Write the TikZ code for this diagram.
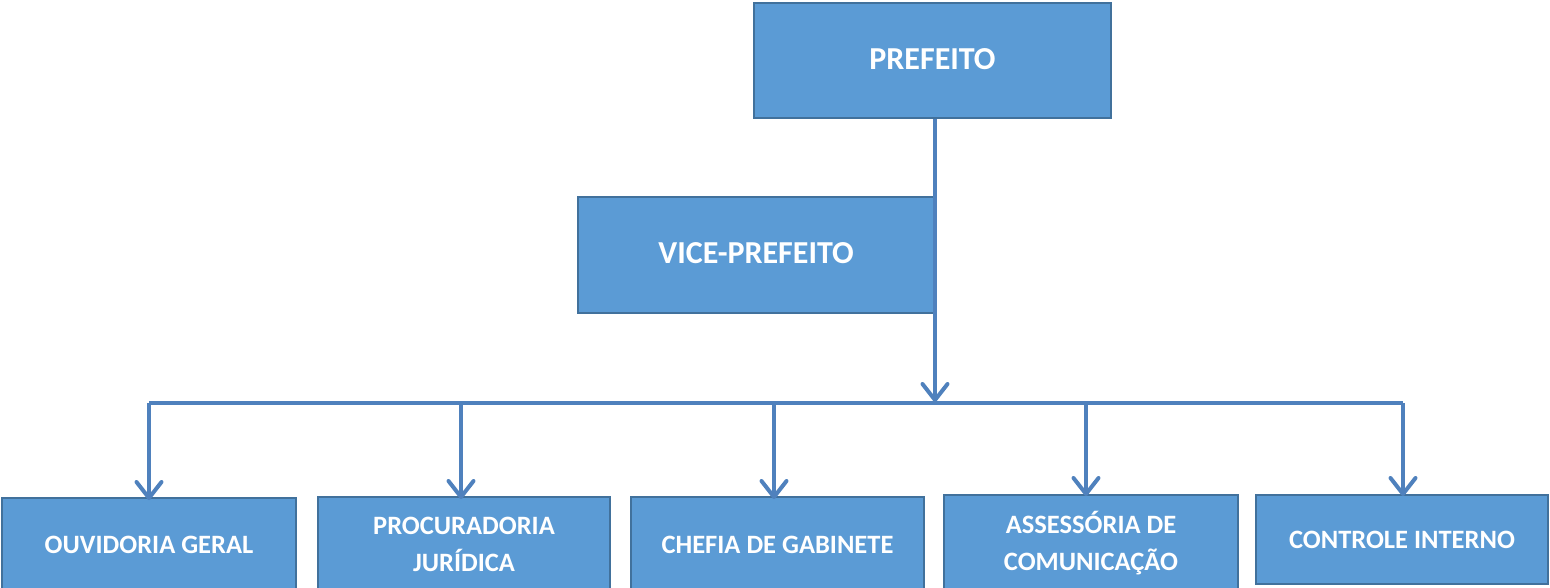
\documentclass[tikz,border=0pt]{standalone}
\usepackage{fontspec}
\setmainfont{Carlito}
\usetikzlibrary{arrows.meta}
\definecolor{boxfill}{HTML}{5B9BD5}
\definecolor{boxline}{HTML}{41719C}
\definecolor{connline}{HTML}{4F81BD}
\tikzset{
  orgbox/.style={draw=boxline, fill=boxfill, line width=2pt, inner sep=0pt,
    text=white, font=\fontsize{26.5}{37}\selectfont\bfseries, align=center},
  topbox/.style={orgbox, font=\fontsize{32}{38}\selectfont\bfseries},
  conn/.style={draw=connline, line width=4pt},
  connarrow/.style={conn, -{Straight Barb[length=16pt,width=25pt,line cap=round,line join=round]}}
}
\begin{document}
\begin{tikzpicture}[x=1pt,y=-1pt]
\useasboundingbox (0,0) rectangle (1550,587);
\node[topbox, minimum width=357pt, minimum height=115pt] (pref) at (932.5,60.5) {\raisebox{3pt}{PREFEITO}};
\node[topbox, minimum width=356pt, minimum height=116pt] (vice) at (756,255) {\raisebox{4pt}{VICE-PREFEITO}};
\coordinate (bus) at (935,403);
\node[orgbox, minimum width=294pt, minimum height=94pt] (b1) at (149,545) {OUVIDORIA GERAL};
\node[orgbox, minimum width=292pt, minimum height=95pt] (b2) at (464,544.5) {PROCURADORIA\\JURÍDICA};
\node[orgbox, minimum width=293pt, minimum height=95pt] (b3) at (777.5,544.5) {CHEFIA DE GABINETE};
\node[orgbox, minimum width=294pt, minimum height=97pt] (b4) at (1091,543.5) {ASSESSÓRIA DE\\COMUNICAÇÃO};
\node[orgbox, minimum width=292pt, minimum height=89pt] (b5) at (1402,539.5) {\raisebox{-3pt}{CONTROLE INTERNO}};
\draw[connarrow] ([xshift=2.5pt]pref.south) -- ([yshift=1pt]bus);
\draw[conn] (b1.north |- bus) -- ([xshift=1pt]b5.north |- bus);
\draw[connarrow] (b1.north |- bus) -- ([yshift=-3pt]b1.north);
\draw[connarrow] ([xshift=-3pt]b2.north |- bus) -- ([xshift=-3pt,yshift=-3pt]b2.north);
\draw[connarrow] ([xshift=-3.5pt]b3.north |- bus) -- ([xshift=-3.5pt,yshift=-3pt]b3.north);
\draw[connarrow] ([xshift=-5pt]b4.north |- bus) -- ([xshift=-5pt,yshift=-2pt]b4.north);
\draw[connarrow] ([xshift=1pt]b5.north |- bus) -- ([xshift=1pt,yshift=-2pt]b5.north);
\end{tikzpicture}
\end{document}
